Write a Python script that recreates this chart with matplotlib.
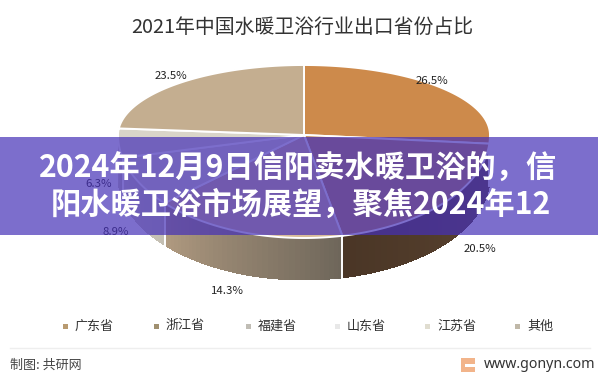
"""Exploded 3D-look pie of sanitary ware exports with a banner laid over it."""
import matplotlib

matplotlib.use("Agg")
import matplotlib.pyplot as plt
import numpy as np
from matplotlib.patches import Polygon, Rectangle

plt.rcParams["font.family"] = ["Noto Sans CJK SC", "DejaVu Sans"]

CHART_TITLE = "2021年中国水暖卫浴行业出口省份占比"
BANNER_LINES = ["2024年12月9日信阳卖水暖卫浴的，信", "阳水暖卫浴市场展望，聚焦2024年12"]
PROVINCES = ["广东省", "浙江省", "福建省", "山东省", "江苏省", "其他"]
SHARES = [26.5, 20.5, 14.3, 8.9, 6.3, 23.5]

FACE_COLORS = ["#CD8A4B", "#BE8A5A", "#D8BC9A", "#DDD8CC", "#D9D5C9", "#C4AE90"]
SIDE_LEFT = ["#8A5A30", "#4A3626", "#B09A80", "#D6D1C6", "#D6D1C6", "#A89678"]
SIDE_RIGHT = ["#6E4A2A", "#5E4632", "#6E665A", "#C4BFB2", "#C4BFB2", "#A89678"]
LEGEND_COLORS = ["#B89A70", "#A09070", "#C0BDB5", "#E8E8E8", "#E0DDD0", "#C0B8A8"]
LABEL_XY = [(432, 81), (480, 249), (227, 291), (116, 232), (99, 184), (171, 76)]
LEGEND_X = [65, 156, 248, 337, 427, 517]

CX, CY, RX, RY_TOP, RY_BOT, DEPTH = 304, 135, 186, 70, 103, 42


def warp(theta):
    # the near half of the tilted disc is stretched by perspective
    t = np.asarray(theta, dtype=float)
    right = (t > np.pi / 2) & (t < np.pi)
    left = (t >= np.pi) & (t < np.pi * 1.5)
    out = t.copy()
    out[right] -= np.radians(3) * np.sin(2 * (t[right] - np.pi / 2))
    out[left] += np.radians(8) * np.sin(2 * (t[left] - np.pi))
    return out


def rim(theta):
    t = warp(theta)
    x = CX + RX * np.sin(t)
    ry = np.where(np.cos(t) > 0, RY_TOP, RY_BOT)
    return x, CY - ry * np.cos(t)


def hex_rgb(c):
    return np.array(matplotlib.colors.to_rgb(c))


fig = plt.figure(figsize=(5.98, 3.73), dpi=100)
ax = fig.add_axes([0, 0, 1, 1])
ax.set_xlim(0, 598)
ax.set_ylim(373, 0)
ax.axis("off")

ax.text(302, 27, CHART_TITLE, ha="center", va="center", fontsize=14.3, color="#333333")

edges = np.radians(np.cumsum([0] + SHARES) / sum(SHARES) * 360)

# side walls first, split in strips so they shade across the slice
for i in range(len(SHARES)):
    a0, a1 = max(edges[i], np.pi / 2), min(edges[i + 1], np.pi * 1.5)
    if a1 <= a0:
        continue
    th = np.linspace(a0, a1, 40)
    x, y = rim(th)
    left, right = hex_rgb(SIDE_LEFT[i]), hex_rgb(SIDE_RIGHT[i])
    for j in range(len(th) - 1):
        quad = [(x[j], y[j]), (x[j + 1], y[j + 1]), (x[j + 1], y[j + 1] + DEPTH), (x[j], y[j] + DEPTH)]
        ax.add_patch(Polygon(quad, fc=right + (left - right) * j / 38, ec="none", aa=False, zorder=2))
    ax.plot([x[0], x[0]], [y[0], y[0] + DEPTH], color="white", lw=1.4, zorder=3)

# top faces
for i in range(len(SHARES)):
    th = np.linspace(edges[i], edges[i + 1], 60)
    x, y = rim(th)
    pts = np.vstack([[CX, CY], np.column_stack([x, y])])
    ax.add_patch(Polygon(pts, fc=FACE_COLORS[i], ec="white", lw=1.4, zorder=4))

for xy, v in zip(LABEL_XY, SHARES):
    ax.text(xy[0], xy[1], f"{v}%", ha="center", va="center", fontsize=8.2, color="#222222", zorder=5)

for x0, name, c in zip(LEGEND_X, PROVINCES, LEGEND_COLORS):
    ax.add_patch(Rectangle((x0 - 2.5, 323.5), 5, 5, fc=c, ec="none"))
    ax.text(x0 + 10, 326, name, ha="left", va="center", fontsize=9.4, color="#333333")

ax.plot([10, 590], [348, 348], color="#EEEEEE", lw=1)
ax.text(10, 365, "制图: 共研网", ha="left", va="center", fontsize=9.4, color="#444444")
# little site logo
ax.add_patch(Rectangle((461, 358), 14, 14, fc="#F2B48A", ec="none"))
ax.add_patch(Rectangle((465, 364), 10, 2.5, fc="white", ec="none"))
ax.text(595, 364, "www.gonyn.com", ha="right", va="center", fontsize=10.2, color="#333333", family="Noto Sans")

# translucent banner over the chart
ax.add_patch(Rectangle((0, 137), 598, 98, fc=(69 / 255, 48 / 255, 183 / 255), alpha=0.7, ec="none", zorder=6))
for x0, y0, line in zip([298.5, 301], [169, 205], BANNER_LINES):
    ax.text(x0, y0, line, ha="center", va="center", fontsize=21.8, fontweight="bold", color="white", zorder=7)

fig.savefig("out.png", dpi=100)
